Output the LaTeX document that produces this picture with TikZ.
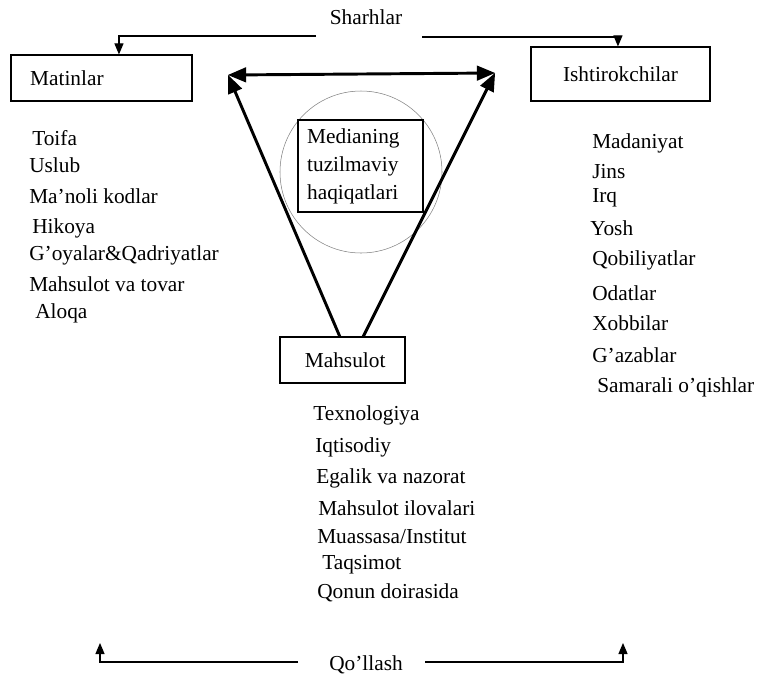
\documentclass[tikz,border=0pt]{standalone}
\usepackage{fontspec}
\setmainfont{Liberation Serif}
\usepackage{tikz}
\usetikzlibrary{arrows}

\tikzset{
	txt/.style={font=\fontsize{16}{21}\selectfont, inner sep=0pt},
	lst/.style={txt, anchor=west},
	bx/.style={draw, line width=0.9pt, txt},
	thin arrow/.style={line width=0.9pt, -triangle 45},
	thick arrow/.style={line width=2.2pt, -triangle 45}
}

\begin{document}
\begin{tikzpicture}[x=0.75pt, y=-0.75pt]
		\useasboundingbox (0,0) rectangle (758,679);
		% boxes
		\node[bx, minimum width=135.75pt, minimum height=34.5pt, text width=107pt, align=left] (mat) at (101.5,78) {Matinlar};
		\node[bx, minimum width=134.25pt, minimum height=40.5pt] (ish) at (620.5,74) {Ishtirokchilar};
		\node[bx, minimum width=93.75pt, minimum height=34.5pt] (mhs) at (342.5,360) {\hspace*{4pt}Mahsulot};
		\node[draw, gray, thin, circle, minimum size=121.5pt] (krg) at (361,172) {};
		\node[bx, minimum width=93.75pt, minimum height=69pt, text width=80pt, align=left] (med) at (360.5,166) {Medianing\\tuzilmaviy\\haqiqatlari};
		% top and bottom labels
		\node[txt] (shr) at (366,17) {Sharhlar};
		\node[txt] (qol) at (366,665) {Qo'llash};
		\coordinate (s1) at (316,36);
		\coordinate (s2) at (422,37);
		\coordinate (q1) at (298,662);
		\coordinate (q2) at (425,662);
		\coordinate (q1a) at (100,643);
		\coordinate (q2a) at (623,643);
		\draw[thin arrow] (s1) -| ([xshift=13.1pt]mat.north);
		\draw[thin arrow] (s2) -| ([xshift=-1.9pt]ish.north);
		\draw[thin arrow] (q1) -| (q1a);
		\draw[thin arrow] (q2) -| (q2a);
		% triangle
		\coordinate (tl) at (228,75);
		\coordinate (tr) at (495,73);
		\coordinate (ml) at (340,337);
		\coordinate (mr) at (363,337);
		\draw[thick arrow, triangle 45-triangle 45] (tl) -- (tr);
		\draw[thick arrow] (ml) -- (tl);
		\draw[thick arrow] (mr) -- (tr);
		% lists
		\foreach \x/\y/\t [count=\i] in {32/138/Toifa, 29/165/Uslub, 29/196/Ma'noli kodlar, 32/228/Hikoya,
			29/255/G'oyalar\&Qadriyatlar, 29/284/Mahsulot va tovar, 35/313/Aloqa} {
			\node[lst] (mt\i) at (\x,\y) {\t};
		}
		\foreach \x/\y/\t [count=\i] in {592/143/Madaniyat, 592/172/Jins, 592/198/Irq, 590/228/Yosh,
			592/260/Qobiliyatlar, 592/293/Odatlar, 592/323/Xobbilar, 592/355/G'azablar, 597/387/Samarali o'qishlar} {
			\node[lst] (is\i) at (\x,\y) {\t};
		}
		\foreach \x/\y/\t [count=\i] in {313/415/Texnologiya, 315/447/Iqtisodiy, 316/478/Egalik va nazorat,
			318/508/Mahsulot ilovalari, 317/537/{Muassasa/Institut}, 322/565/Taqsimot, 317/593/Qonun doirasida} {
			\node[lst] (mh\i) at (\x,\y) {\t};
		}
		\end{tikzpicture}
\end{document}
